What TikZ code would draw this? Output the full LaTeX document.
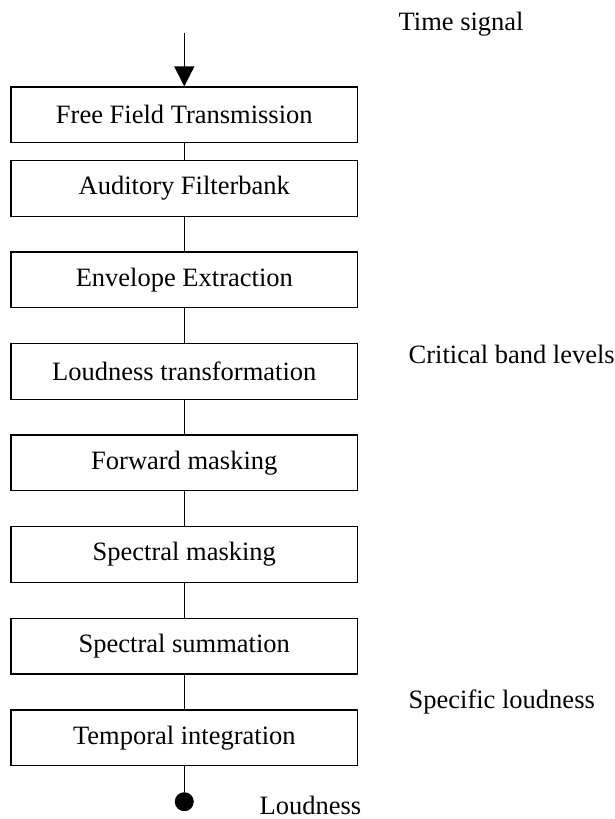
\documentclass[tikz,border=0pt]{standalone}
\usepackage{fontspec}
\setmainfont{Liberation Serif}
\usepackage{tikz}
\usetikzlibrary{arrows.meta}

\begin{document}
\begin{tikzpicture}[x=1pt,y=-1pt,
  line width=1.3pt,
  font=\fontsize{26.5}{32}\selectfont,
  stage/.style={draw, rectangle, minimum width=346.5pt, minimum height=55.5pt, inner sep=0pt},
  sig/.style={anchor=base west, inner sep=0pt}]
\useasboundingbox (0,0) rectangle (615,819);

\coordinate (In) at (184.3,32.7);

\node [stage] (FF) at (184.3,114.8) {Free Field Transmission};
\node [stage] (AF) at (184.3,188.5) {Auditory Filterbank};
\node [stage] (EE) at (184.3,279.8) {Envelope Extraction};
\node [stage] (LT) at (184.3,371.5) {Loudness transformation};
\node [stage] (FM) at (184.3,462.8) {Forward masking};
\node [stage] (SM) at (184.3,554.5) {Spectral masking};
\node [stage] (SS) at (184.3,646.3) {Spectral summation};
\node [stage] (TI) at (184.3,737.7) {Temporal integration};

\node [circle, fill, minimum size=19pt, inner sep=0pt] (Out) at (184.3,801.7) {};

\draw[-{Triangle[width=20pt,length=20pt]}] (In) -- (FF);
\draw (FF) -- (AF);
\draw (AF) -- (EE);
\draw (EE) -- (LT);
\draw (LT) -- (FM);
\draw (FM) -- (SM);
\draw (SM) -- (SS);
\draw (SS) -- (TI);
\draw (TI) -- (Out);

\node [sig] (ts) at (398,30) {Time signal};
\node [sig] (cb) at (408,363) {Critical band levels};
\node [sig] (sl) at (408,708) {Specific loudness};
\node [sig] (ld) at (259,814) {Loudness};

\end{tikzpicture}
\end{document}
